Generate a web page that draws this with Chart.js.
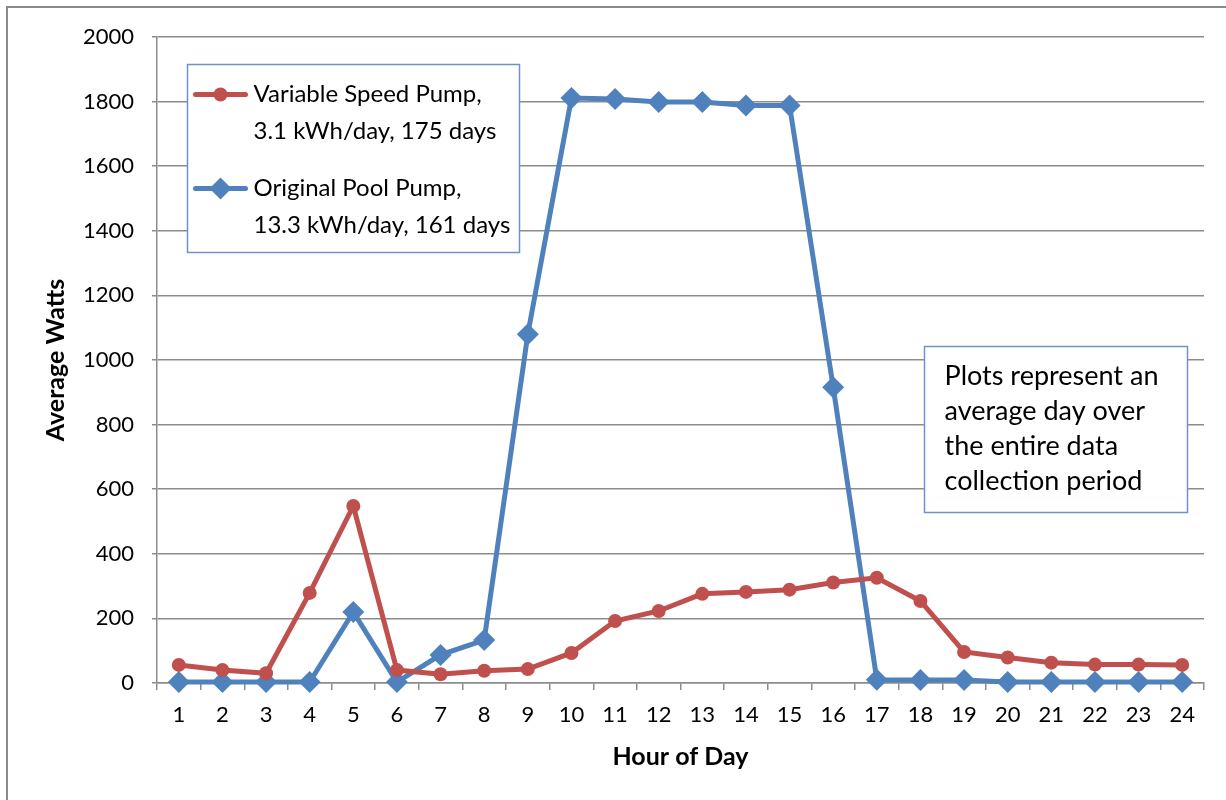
<!DOCTYPE html>
<html>
<head>
<meta charset="utf-8">
<script src="https://cdn.jsdelivr.net/npm/chart.js@4.4.1/dist/chart.umd.min.js"></script>
<style>
  html, body { margin: 0; padding: 0; background: #ffffff; }
  #wrap { width: 1226px; height: 800px; position: relative; }
</style>
</head>
<body>
<div id="wrap"><canvas id="c" width="1226" height="800"></canvas></div>
<script>
// ---- data ----
const hours = ['1','2','3','4','5','6','7','8','9','10','11','12','13','14','15','16','17','18','19','20','21','22','23','24'];
const variableSpeedWatts = [56, 40, 30, 279, 548, 40, 27, 38, 43, 93, 192, 223, 276, 282, 289, 311, 326, 254, 96, 79, 63, 57, 57, 56];
const originalPumpWatts = [3, 3, 3, 3, 220, 3, 87, 133, 1080, 1811, 1808, 1799, 1799, 1788, 1788, 916, 10, 9, 9, 3, 3, 3, 3, 3];
const variableSpeedLabel = ['Variable Speed Pump,', '3.1 kWh/day, 175 days'];
const originalPumpLabel = ['Original Pool Pump,', '13.3 kWh/day, 161 days'];
const noteLines = ['Plots represent an', 'average day over', 'the entire data', 'collection period'];
const yAxisTitle = 'Average Watts';
const xAxisTitle = 'Hour of Day';
const yMin = 0, yMax = 2000, yStep = 200;

const FONT = 'Lato, "Open Sans", sans-serif';
const RED = '#C0504D';
const BLUE = '#4F81BD';
const GRID = '#8c8c8c';

const boxesPlugin = {
  id: 'boxes',
  beforeDraw(chart) {
    const ctx = chart.ctx;
    ctx.save();
    ctx.fillStyle = '#ffffff';
    ctx.fillRect(0, 0, chart.width, chart.height);
    ctx.strokeStyle = '#8a8a8a';
    ctx.lineWidth = 2;
    ctx.strokeRect(7, 7, chart.width + 50, chart.height + 50);
    ctx.restore();
  },
  afterDatasetsDraw(chart) {
    const ctx = chart.ctx;
    const area = chart.chartArea;
    ctx.save();
    // legend box
    const lx = area.left + 30.5, ly = area.top + 27.5, lw = 332, lh = 188;
    ctx.fillStyle = '#ffffff';
    ctx.fillRect(lx, ly, lw, lh);
    ctx.strokeStyle = '#6d93c8';
    ctx.lineWidth = 1.5;
    ctx.strokeRect(lx, ly, lw, lh);
    ctx.font = '24px ' + FONT;
    ctx.textBaseline = 'middle';
    ctx.fillStyle = '#000000';
    chart.data.datasets.forEach((ds, i) => {
      const lines = ds.labelLines;
      const y0 = ly + 30 + i * 94;
      ctx.strokeStyle = ds.borderColor;
      ctx.lineWidth = 5;
      ctx.lineCap = 'round';
      ctx.beginPath();
      ctx.moveTo(lx + 8, y0);
      ctx.lineTo(lx + 58, y0);
      ctx.stroke();
      ctx.fillStyle = ds.pointBackgroundColor;
      ctx.beginPath();
      const cx = lx + 33;
      if (ds.pointStyle === 'rectRot') {
        const r = ds.pointRadius;
        ctx.moveTo(cx, y0 - r); ctx.lineTo(cx + r, y0); ctx.lineTo(cx, y0 + r); ctx.lineTo(cx - r, y0);
        ctx.closePath();
      } else {
        ctx.arc(cx, y0, ds.pointRadius, 0, Math.PI * 2);
      }
      ctx.fill();
      ctx.fillStyle = '#000000';
      lines.forEach((t, j) => ctx.fillText(t, lx + 66, y0 + j * 37));
    });
    // note box
    const nx = 924.5, ny = 346.5, nw = 263, nh = 166;
    ctx.fillStyle = '#ffffff';
    ctx.fillRect(nx, ny, nw, nh);
    ctx.strokeStyle = '#6d93c8';
    ctx.lineWidth = 1.5;
    ctx.strokeRect(nx, ny, nw, nh);
    ctx.fillStyle = '#000000';
    ctx.font = '27px ' + FONT;
    noteLines.forEach((t, j) => ctx.fillText(t, nx + 20, ny + 30 + j * 35));
    ctx.restore();
  }
};

new Chart(document.getElementById('c'), {
  type: 'line',
  data: {
    labels: hours,
    datasets: [
      {
        label: variableSpeedLabel.join(' '),
        labelLines: variableSpeedLabel,
        data: variableSpeedWatts,
        borderColor: RED,
        backgroundColor: RED,
        pointBackgroundColor: RED,
        pointBorderColor: RED,
        pointBorderWidth: 0,
        pointStyle: 'circle',
        pointRadius: 7,
        borderWidth: 5,
        tension: 0,
        clip: false
      },
      {
        label: originalPumpLabel.join(' '),
        labelLines: originalPumpLabel,
        data: originalPumpWatts,
        borderColor: BLUE,
        backgroundColor: BLUE,
        pointBackgroundColor: BLUE,
        pointBorderColor: BLUE,
        pointBorderWidth: 0,
        pointStyle: 'rectRot',
        pointRadius: 11,
        borderWidth: 5,
        tension: 0,
        clip: false
      }
    ]
  },
  options: {
    responsive: false,
    animation: false,
    devicePixelRatio: 1,
    layout: { padding: { left: 0, top: 37, right: 22, bottom: 0 } },
    plugins: { legend: { display: false }, tooltip: { enabled: false } },
    scales: {
      x: {
        offset: true,
        grid: { offset: true, drawOnChartArea: false, drawTicks: true, tickLength: 7, color: GRID, lineWidth: 1.5 },
        border: { display: true, color: GRID, width: 1.5 },
        ticks: { color: '#000', font: { family: FONT, size: 22 }, padding: 12, maxRotation: 0, autoSkip: false },
        title: { display: true, text: xAxisTitle, color: '#000', font: { family: FONT, size: 25, weight: 'bold' }, padding: { top: 0, bottom: 28 } },
        afterFit(s) { s.height = 117; }
      },
      y: {
        min: yMin, max: yMax,
        grid: { color: GRID, lineWidth: 1.5, tickLength: 5, drawTicks: true },
        border: { display: true, color: GRID, width: 1.5 },
        ticks: { stepSize: yStep, color: '#000', font: { family: FONT, size: 22 }, padding: 18, callback: (v) => String(v) },
        title: { display: true, text: yAxisTitle, color: '#000', font: { family: FONT, size: 25, weight: 'bold' }, padding: { top: 41, bottom: 0 } },
        afterFit(s) { s.width = 157; }
      }
    }
  },
  plugins: [boxesPlugin]
});
</script>
</body>
</html>
